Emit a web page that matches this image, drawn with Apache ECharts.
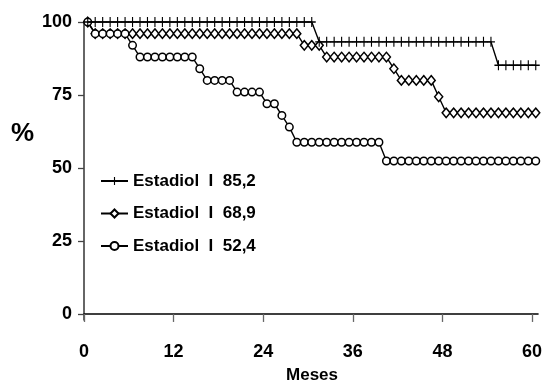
<!DOCTYPE html>
<html><head><meta charset="utf-8">
<script src="https://cdn.jsdelivr.net/npm/echarts@6/dist/echarts.min.js"></script>
<style>html,body{margin:0;padding:0;background:#fff}#c{width:547px;height:382px}</style>
</head><body><div id="c"></div>
<script>
// Time of each plotted point (months)
const months = [0.5,1.5,2.5,3.5,4.5,5.5,6.5,7.5,8.5,9.5,10.5,11.5,12.5,13.5,14.5,15.5,16.5,17.5,18.5,19.5,
  20.5,21.5,22.5,23.5,24.5,25.5,26.5,27.5,28.5,29.5,30.5,31.5,32.5,33.5,34.5,35.5,36.5,37.5,38.5,39.5,
  40.5,41.5,42.5,43.5,44.5,45.5,46.5,47.5,48.5,49.5,50.5,51.5,52.5,53.5,54.5,55.5,56.5,57.5,58.5,59.5,60.5];
const seriesNames = ['Estadiol  I  85,2', 'Estadiol  I  68,9', 'Estadiol  I  52,4'];
const stageA = [100,100,100,100,100,100,100,100,100,100,100,100,100,100,100,100,100,100,100,100,
  100,100,100,100,100,100,100,100,100,100,100,93.2,93.2,93.2,93.2,93.2,93.2,93.2,93.2,93.2,
  93.2,93.2,93.2,93.2,93.2,93.2,93.2,93.2,93.2,93.2,93.2,93.2,93.2,93.2,93.2,85.2,85.2,85.2,85.2,85.2,85.2];
const stageB = [100,96,96,96,96,96,96,96,96,96,96,96,96,96,96,96,96,96,96,96,
  96,96,96,96,96,96,96,96,96,92,92,92,88,88,88,88,88,88,88,88,
  88,84,80,80,80,80,80,74.4,68.9,68.9,68.9,68.9,68.9,68.9,68.9,68.9,68.9,68.9,68.9,68.9,68.9];
const stageC = [100,96,96,96,96,96,92,88,88,88,88,88,88,88,88,84,80,80,80,80,
  76,76,76,76,72,72,68,64,58.8,58.8,58.8,58.8,58.8,58.8,58.8,58.8,58.8,58.8,58.8,58.8,
  52.4,52.4,52.4,52.4,52.4,52.4,52.4,52.4,52.4,52.4,52.4,52.4,52.4,52.4,52.4,52.4,52.4,52.4,52.4,52.4,52.4];
const xTicks = [0, 12, 24, 36, 48, 60];
const yTicks = [0, 25, 50, 75, 100];
const xTitle = 'Meses';
const yTitle = '%';

const FONT = '"Liberation Sans", Arial, Helvetica, sans-serif';
const plusPath = 'path://M4.3,0H5.7V10H4.3Z M0,4.3H10V5.7H0Z';

function mk(name, vals, symbol, size, fill, z) {
  return {
    type: 'line', name: name, z: z,
    data: months.map((m, i) => [m, vals[i]]),
    symbol: symbol, symbolSize: size, showAllSymbol: true, clip: false,
    lineStyle: {color: '#000', width: 1.4},
    itemStyle: {color: fill, borderColor: '#000', borderWidth: fill === '#000' ? 0 : 1.5},
    emphasis: {disabled: true}
  };
}

const chart = echarts.init(document.getElementById('c'), null, {renderer: 'canvas'});
chart.setOption({
  animation: false,
  backgroundColor: '#fff',
  grid: {left: 84, right: 9, top: 22, bottom: 62.2, containLabel: false},
  xAxis: {
    type: 'value', min: 0, max: 60.8,
    axisLine: {onZero: true, lineStyle: {color: '#000', width: 1.6}},
    axisTick: {show: true, length: 8, customValues: xTicks, lineStyle: {color: '#666', width: 1.3}},
    axisLabel: {customValues: xTicks, margin: 23, fontFamily: FONT, fontWeight: 'bold', fontSize: 18, color: '#000'},
    splitLine: {show: false}
  },
  yAxis: {
    type: 'value', min: -2, max: 100,
    axisLine: {show: true, onZero: false, lineStyle: {color: '#666', width: 2}},
    axisTick: {show: true, length: 6, customValues: yTicks, lineStyle: {color: '#444', width: 1.3}},
    axisLabel: {customValues: yTicks, margin: 12, fontFamily: FONT, fontWeight: 'bold', fontSize: 18, color: '#000'},
    splitLine: {show: false}
  },
  legend: {
    orient: 'vertical', left: 100, top: 171, padding: 0, itemWidth: 27, itemHeight: 10, itemGap: 12.5,
    data: seriesNames,
    textStyle: {fontFamily: FONT, fontWeight: 'bold', fontSize: 17, color: '#000', lineHeight: 20},
    selectedMode: false
  },
  graphic: [{
    type: 'text', left: 11, top: 121,
    style: {text: yTitle, font: 'bold 26px ' + FONT, fill: '#000'}
  }, {
    type: 'text', x: 312, y: 367,
    style: {text: xTitle, font: 'bold 17px ' + FONT, fill: '#000', textAlign: 'center', textVerticalAlign: 'top'}
  }],
  series: [
    mk(seriesNames[0], stageA, plusPath, [8, 10], '#000', 4),
    mk(seriesNames[1], stageB, 'diamond', [8, 9.5], '#fff', 2),
    mk(seriesNames[2], stageC, 'circle', 7.5, '#fff', 3)
  ]
});
</script></body></html>
